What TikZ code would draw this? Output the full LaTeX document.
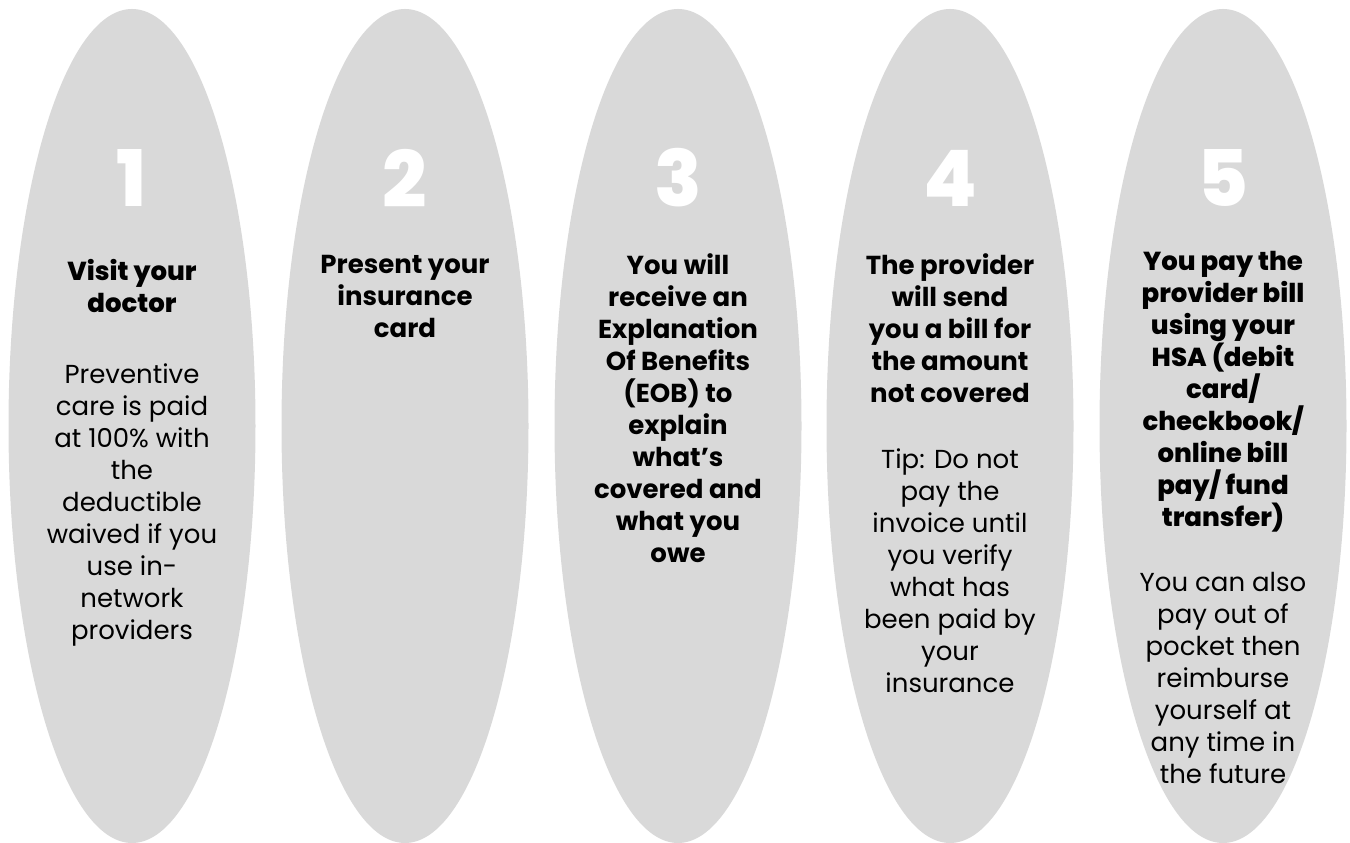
\documentclass[tikz,border=0pt]{standalone}
\usepackage{fontspec}
\setmainfont{Poppins}
\newfontfamily\heavyfont{Poppins ExtraBold}
\usetikzlibrary{shapes.geometric}
\definecolor{ovalgray}{HTML}{D9D9D9}
\tikzset{
  oval/.style={ellipse, fill=ovalgray, minimum width=247pt, minimum height=834pt, inner sep=0pt},
  stepnum/.style={text=white, font=\heavyfont\fontsize{78}{78}\selectfont},
  steptitle/.style={align=center, font=\bfseries\fontsize{26}{32}\selectfont},
  heavytitle/.style={align=center, font=\heavyfont\fontsize{26}{32}\selectfont},
  stepbody/.style={align=center, font=\fontsize{26}{32}\selectfont},
}
\begin{document}
\begin{tikzpicture}[x=1pt, y=1pt]
			\useasboundingbox (0,0) rectangle (1350,843);
			% ovals
			\node (o1)[oval] at (132,417) {};
			\node (o2)[oval] at (405,417) {};
			\node (o3)[oval] at (678,417) {};
			\node (o4)[oval] at (950,417) {};
			\node (o5)[oval] at (1223,417) {};

			% numbers
			\node (n1)[stepnum] at (132,665) {1};
			\node (n2)[stepnum] at (405,665) {2};
			\node (n3)[stepnum] at (678,665) {3};
			\node (n4)[stepnum] at (950,665) {4};
			\node (n5)[stepnum] at (1223,665) {5};

			% titles
			\node (t1)[heavytitle] at (132,557) {Visit your\\doctor};
			\node (t2)[steptitle] at (405,547) {Present your\\insurance\\card};
			\node (t3)[steptitle] at (678,435) {You will\\receive an\\Explanation\\Of Benefits\\(EOB) to\\explain\\what’s\\covered and\\what you\\owe};
			\node (t4)[steptitle] at (950,515) {The provider\\will send\\you a bill for\\the amount\\not covered};
			\node (t5)[heavytitle] at (1223,451) {You pay the\\provider bill\\using your\\HSA (debit\\card/\\checkbook/\\online bill\\pay/ fund\\transfer)};

			% details
			\node (b1)[stepbody] at (132,338) {Preventive\\care is paid\\at 100\% with\\the\\deductible\\waived if you\\use in-\\network\\providers};
			\node (b4)[stepbody] at (950,272) {Tip: Do not\\pay the\\invoice until\\you verify\\what has\\been paid by\\your\\insurance};
			\node (b5)[stepbody] at (1223,165) {You can also\\pay out of\\pocket then\\reimburse\\yourself at\\any time in\\the future};
		\end{tikzpicture}
\end{document}
